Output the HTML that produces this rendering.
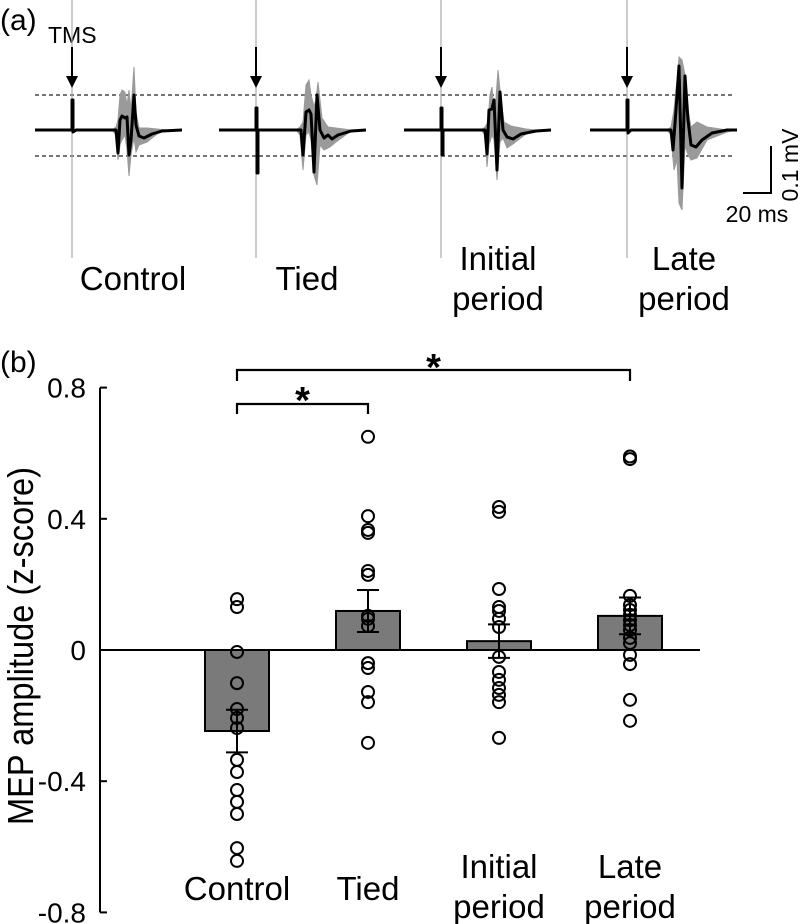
<!DOCTYPE html>
<html><head><meta charset="utf-8"><style>
html,body{margin:0;padding:0;background:#fff}
svg{display:block;font-family:"Liberation Sans",sans-serif}
</style></head><body>
<svg id="fig" width="800" height="924" viewBox="0 0 800 924">
<g id="panelA"></g>
<g id="panelB"></g>
</svg>
<script>
// ---------- Panel (b) data ----------
const categories = ["Control","Tied","Initial period","Late period"];
const meanValues = [-0.247, 0.119, 0.027, 0.104];
const semValues = [0.065, 0.064, 0.051, 0.056];
const controlPoints = [0.155,0.131,-0.006,-0.101,-0.180,-0.207,-0.238,-0.335,-0.372,-0.427,-0.463,-0.500,-0.604,-0.643];
const tiedPoints = [0.65,0.408,0.366,0.357,0.241,0.229,0.104,0.095,0.073,-0.04,-0.055,-0.128,-0.159,-0.283];
const initialPoints = [0.436,0.421,0.186,0.131,0.119,0.095,0.070,-0.021,-0.067,-0.091,-0.116,-0.137,-0.159,-0.268];
const latePoints = [0.59,0.582,0.165,0.137,0.122,0.107,0.091,0.076,0.061,0.037,0.021,-0.015,-0.043,-0.152,-0.216];
const yTicks = [0.8,0.4,0,-0.4,-0.8];
const yTickLabels = ["0.8","0.4","0","-0.4","-0.8"];

// ---------- Panel (a) waveform shapes (relative time ms, amplitude) ----------
const traceNames = ["Control","Tied","Initial period","Late period"];
const meanTraces = [
 [[-37,0],[0,0],[0,-30],[1,-30],[1,2],[4,0],[44,0],[46,23],[48,-10],[50,-14],[53,-12],[55,-13],[57,25],[59,10],[62,-35],[64,-5],[67,6],[72,8],[80,4],[90,1],[110,0]],
 [[-37,0],[0,0],[0,-22],[1,-22],[1,43],[2,43],[2,0],[45,0],[47,25],[50,-18],[53,-20],[55,-16],[58,42],[61,-35],[64,0],[68,8],[72,5],[76,9],[82,5],[95,1],[110,0]],
 [[-37,0],[0,0],[0,-22],[1,-22],[1,25],[2,25],[2,0],[44,0],[46,24],[48,-20],[51,-21],[53,-30],[56,40],[59,-38],[62,0],[66,7],[72,9],[80,4],[95,1],[110,0]],
 [[-37,0],[0,0],[0,-30],[1,-30],[1,3],[4,0],[44,0],[46,20],[49,-20],[52,-64],[55,58],[58,-54],[61,-10],[64,15],[69,17],[75,10],[85,3],[100,0],[110,0]]
];
const bandUpper = [
 [[40,0],[44,-3],[46,-10],[48,-35],[50,-40],[53,-38],[55,-25],[57,-40],[59,-20],[62,-63],[64,-18],[67,-2],[75,-2],[85,-1],[95,0]],
 [[40,0],[44,-3],[47,-8],[50,-45],[53,-50],[55,-35],[58,-24],[60,-30],[62,-48],[66,-12],[72,-3],[80,-2],[95,0]],
 [[40,0],[44,-3],[47,-8],[49,-35],[51,-43],[53,-20],[55,-32],[57,-60],[60,-30],[63,-8],[70,-4],[85,-1],[95,0]],
 [[40,0],[44,-3],[47,-20],[50,-50],[52,-73],[55,-70],[58,-55],[61,-20],[64,-3],[70,-8],[80,-3],[100,0],[110,0]]
];
const bandLower = [
 [[40,0],[44,5],[46,30],[48,15],[50,10],[53,5],[55,20],[57,46],[59,25],[62,8],[64,22],[67,15],[75,12],[85,4],[95,0]],
 [[40,0],[44,5],[47,40],[50,5],[53,2],[55,10],[58,45],[61,55],[64,15],[68,20],[74,17],[80,12],[95,1]],
 [[40,0],[44,5],[46,37],[48,15],[51,5],[53,10],[56,50],[59,12],[62,8],[66,18],[72,14],[85,4],[95,0]],
 [[40,0],[44,5],[47,40],[50,30],[52,73],[55,80],[58,15],[61,25],[64,30],[70,28],[80,10],[100,2],[110,0]]
];
const tmsX = [72,256,441,627];

const NS="http://www.w3.org/2000/svg";
function mk(tag,attrs,parent){const e=document.createElementNS(NS,tag);for(const k in attrs)e.setAttribute(k,attrs[k]);parent.appendChild(e);return e;}
function txt(s,attrs,parent){const e=mk("text",attrs,parent);e.textContent=s;return e;}

// ---------- Panel A ----------
const A=document.getElementById("panelA");
const baseY=130, tScale=1.0, aScale=1.0;
const tx=(i,t)=>tmsX[i]+t*tScale, ay=a=>baseY+a*aScale;
txt("(a)",{x:0,y:30,"font-size":30,fill:"#000",},A);
txt("TMS",{x:48,y:43,"font-size":23,fill:"#000",},A);
const dl1=mk("line",{x1:35,x2:735,y1:95,y2:95,stroke:"#222","stroke-width":1.2,"stroke-dasharray":"4,3"},A);


const dl2=mk("line",{x1:35,x2:735,y1:156,y2:156,stroke:"#222","stroke-width":1.2,"stroke-dasharray":"4,3"},A);


for(let i=0;i<4;i++){
  const g=mk("g",{},A);
  
  
  const art=mk("line",{x1:tx(i,0),x2:tx(i,0),y1:0,y2:258,stroke:"#aaa","stroke-width":1.2},g);
  
  
  let pts=bandUpper[i].map(p=>tx(i,p[0])+","+ay(p[1]));
  pts=pts.concat(bandLower[i].slice().reverse().map(p=>tx(i,p[0])+","+ay(p[1])));
  const band=mk("polygon",{points:pts.join(" "),fill:"#9a9a9a",stroke:"#9a9a9a","stroke-width":1},g);
  
  
  const ln=mk("polyline",{points:meanTraces[i].map(p=>tx(i,p[0])+","+ay(p[1])).join(" "),fill:"none",stroke:"#000","stroke-width":3,"stroke-linejoin":"round"},g);
  
  
  const ar=mk("line",{x1:tx(i,0),x2:tx(i,0),y1:47,y2:78,stroke:"#000","stroke-width":2},g);
  
  
  const ah=mk("polygon",{points:`${tx(i,0)-6},76 ${tx(i,0)+6},76 ${tx(i,0)},88`,fill:"#000"},g);
  
  
}
const aLabels=[[133,290,["Control"]],[307,290,["Tied"]],[498,270,["Initial","period"]],[684,270,["Late","period"]]];
aLabels.forEach((l,i)=>{l[2].forEach((s,j)=>{const t=txt(s,{x:l[0],y:l[1]+j*40,"font-size":33,"text-anchor":"middle",fill:"#000"},A);
 
 });});
mk("polyline",{points:"743,193 771,193 771,146",fill:"none",stroke:"#000","stroke-width":2,},A);
txt("20 ms",{x:757,y:222,"font-size":23,"text-anchor":"middle",fill:"#000",},A);
txt("0.1 mV",{x:0,y:0,"font-size":23,"text-anchor":"middle",fill:"#000",transform:"translate(798,165) rotate(-90)",},A);

// ---------- Panel B ----------
const B=document.getElementById("panelB");
const y0=650, yPer=328;
const yS=v=>y0-v*yPer;
const xCenters=[237,368,499,630];
const xS=i=>xCenters[i];
const barW=64;
txt("(b)",{x:0,y:372,"font-size":30,fill:"#000",},B);
mk("line",{x1:100,x2:100,y1:yS(0.8),y2:yS(-0.8),stroke:"#000","stroke-width":2,},B);
yTicks.forEach((v,i)=>{
  const t=mk("line",{x1:100,x2:107,y1:yS(v),y2:yS(v),stroke:"#000","stroke-width":2},B);
  
  
  const l=txt(yTickLabels[i],{x:86,y:yS(v)+10,"font-size":28,"text-anchor":"end",fill:"#000"},B);
  
  
});
txt("MEP amplitude (z-score)",{x:0,y:0,"font-size":36,"text-anchor":"middle",textLength:358,lengthAdjust:"spacingAndGlyphs",fill:"#000",transform:"translate(33,646) rotate(-90)",},B);
const allPts=[controlPoints,tiedPoints,initialPoints,latePoints];
meanValues.forEach((v,i)=>{
  const b=mk("rect",{x:xS(i)-barW/2,y:Math.min(yS(v),y0),width:barW,height:Math.abs(yS(v)-y0),fill:"#7a7a7a",stroke:"#000","stroke-width":2},B);
  
  
});
mk("line",{x1:100,x2:700,y1:y0,y2:y0,stroke:"#000","stroke-width":2,},B);
allPts.forEach((arr,i)=>{arr.forEach(v=>{
  const c=mk("circle",{cx:xS(i),cy:yS(v),r:6,fill:"none",stroke:"#000","stroke-width":2},B);
  
  
});});
meanValues.forEach((v,i)=>{
  const hi=yS(v+semValues[i]), lo=yS(v-semValues[i]), x=xS(i);
  const e=mk("path",{d:`M${x},${hi}V${lo}M${x-11},${hi}H${x+11}M${x-11},${lo}H${x+11}`,stroke:"#000","stroke-width":2,fill:"none"},B);
  
  
});
const xl=[[237,900,["Control"]],[368,900,["Tied"]],[499,878,["Initial","period"]],[630,878,["Late","period"]]];
xl.forEach((l,i)=>{l[2].forEach((s,j)=>{const t=txt(s,{x:l[0],y:l[1]+j*40,"font-size":33,"text-anchor":"middle",fill:"#000"},B);
 
 });});
// significance brackets
mk("path",{d:`M${xS(0)},381V370H${xS(3)}V381`,stroke:"#000","stroke-width":2.2,fill:"none",},B);
txt("*",{x:(xS(0)+xS(3))/2,y:380,"font-size":38,"font-weight":"bold","text-anchor":"middle",fill:"#000",},B);
mk("path",{d:`M${xS(0)},414V404H${xS(1)}V414`,stroke:"#000","stroke-width":2.2,fill:"none",},B);
txt("*",{x:(xS(0)+xS(1))/2,y:413,"font-size":38,"font-weight":"bold","text-anchor":"middle",fill:"#000",},B);
</script>
</body></html>
